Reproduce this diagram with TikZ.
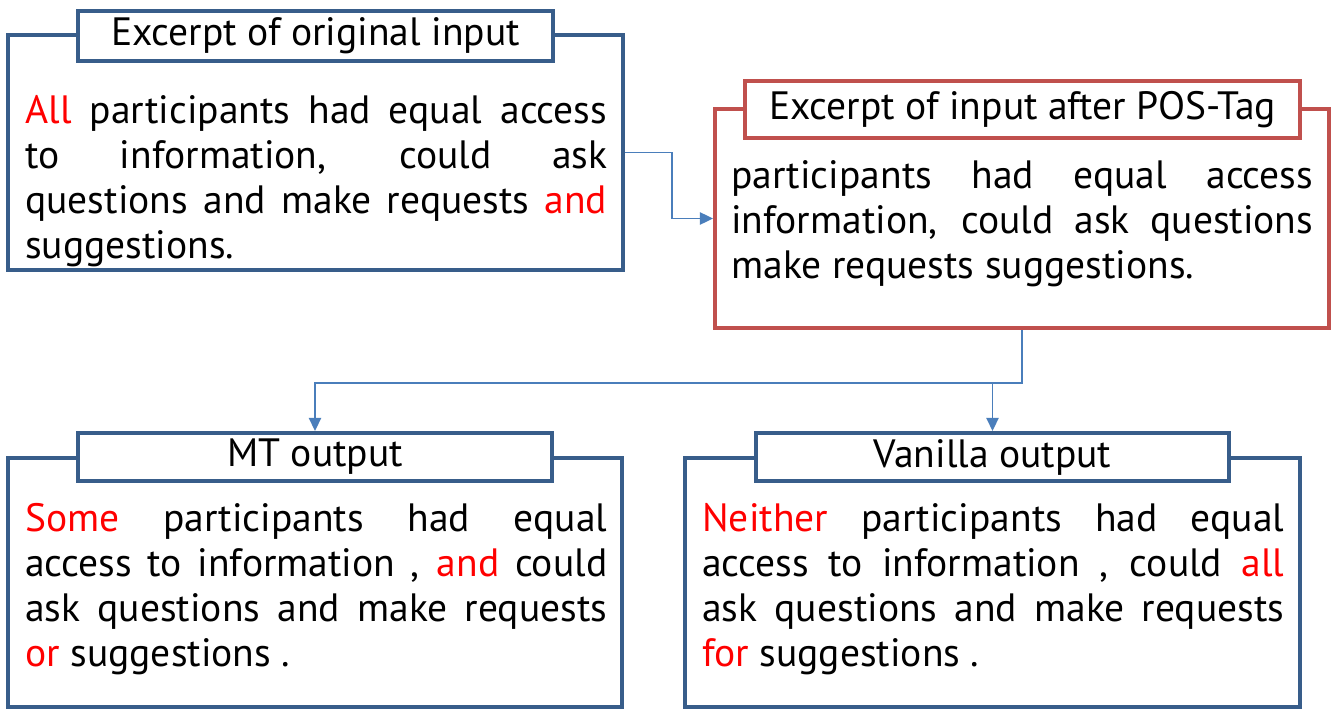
\documentclass[tikz,border=0pt]{standalone}
\usepackage{fontspec}
\setmainfont{PT Sans}
\usetikzlibrary{arrows.meta}
\definecolor{framebl}{HTML}{385D8A}
\definecolor{framerd}{HTML}{C0504D}
\definecolor{linkbl}{HTML}{4A7EBB}
\newcommand{\bodyfont}{\fontsize{22.5}{25.6}\selectfont\tolerance=10000\hyphenpenalty=10000}
\newcommand{\hl}[1]{\textcolor{red}{#1}}
\newcommand{\topstrut}{\rule{0pt}{0.7cm}}
\tikzset{
  bluebox/.style={draw=framebl,line width=2.3pt,inner sep=0pt},
  redbox/.style={draw=framerd,line width=2.3pt,inner sep=0pt},
  titlebox/.style={fill=white,font=\bodyfont},
  bodytext/.style={anchor=north west,inner sep=0pt,text width=11.64cm,align=justify,font=\bodyfont},
  link/.style={draw=linkbl,line width=1pt,-{Triangle[length=7.5pt,width=7pt]}}
}

\begin{document}
\begin{tikzpicture}[x=0.02cm,y=-0.02cm]
  \useasboundingbox (0,0) rectangle (1338,710);
  % the four frames
  \node[bluebox,minimum width=12.3cm,minimum height=4.7cm] (orig) at (315.5,152.5) {};
  \node[redbox,minimum width=12.28cm,minimum height=4.38cm] (pos) at (1022,218.5) {};
  \node[bluebox,minimum width=12.28cm,minimum height=4.98cm] (mt) at (315,582.5) {};
  \node[bluebox,minimum width=12.3cm,minimum height=4.98cm] (van) at (992.5,582.5) {};
  % titles
  \node[bluebox,titlebox,minimum width=9.5cm,minimum height=1cm] (origtitle) at (315.5,36) {Excerpt of original input};
  \node[redbox,titlebox,minimum width=11.1cm,minimum height=1.14cm] (postitle) at (1022.5,109.5) {Excerpt of input after POS-Tag};
  \node[bluebox,titlebox,minimum width=9.48cm,minimum height=0.96cm] (mttitle) at (315,457) {MT output};
  \node[bluebox,titlebox,minimum width=9.46cm,minimum height=0.96cm] (vantitle) at (992.5,457) {Vanilla output};
  % texts
  \node[bodytext] (origtext) at (25,88) {\topstrut\hl{All} participants had equal access\linebreak
    to information, could ask\linebreak
    questions and make requests \hl{and}\linebreak
    suggestions.};
  \node[bodytext] (postext) at (731,153) {\topstrut participants had equal access\linebreak
    information, could ask questions\linebreak
    make requests suggestions.};
  \node[bodytext] (mttext) at (25,496) {\topstrut\hl{Some} participants had equal\linebreak
    access to information , \hl{and} could\linebreak
    ask questions and make requests\linebreak
    \hl{or} suggestions .};
  \node[bodytext] (vantext) at (702,496) {\topstrut\hl{Neither} participants had equal\linebreak
    access to information , could \hl{all}\linebreak
    ask questions and make requests\linebreak
    \hl{for} suggestions .};
  % links
  \draw[link] (orig.east) -- ++(47,0) |- (pos.west);
  \draw[link] (pos.south) -- ++(0,53) coordinate (split) -| (mttitle.north);
  \draw[link] (split) -| (vantitle.north);
\end{tikzpicture}
\end{document}
